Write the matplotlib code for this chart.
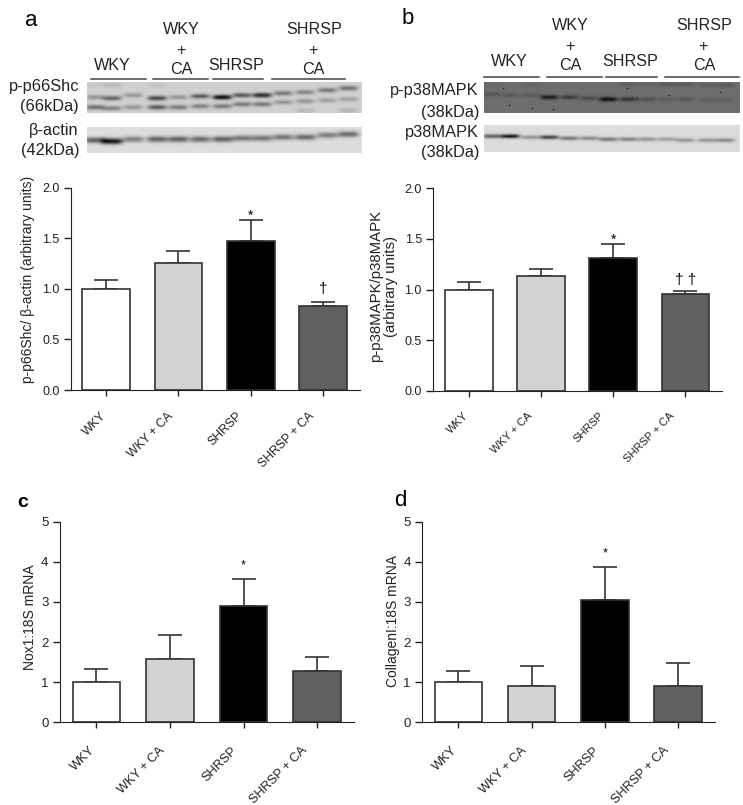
import numpy as np
import matplotlib
matplotlib.use('Agg')
import matplotlib.pyplot as plt
from matplotlib.transforms import ScaledTranslation

plt.rcParams['font.family'] = ['Liberation Sans', 'DejaVu Sans']

W, H = 743, 805

groups = ['WKY', 'WKY + CA', 'SHRSP', 'SHRSP + CA']
bar_colors = ['#ffffff', '#d3d3d3', '#000000', '#606060']

# bar heights and upper error bars
a_means = [1.0, 1.25, 1.47, 0.83]
a_errs = [0.085, 0.125, 0.21, 0.04]
b_means = [1.0, 1.13, 1.31, 0.96]
b_errs = [0.07, 0.07, 0.14, 0.025]
c_means = [1.0, 1.58, 2.91, 1.27]
c_errs = [0.34, 0.60, 0.66, 0.35]
d_means = [1.0, 0.91, 3.04, 0.91]
d_errs = [0.29, 0.49, 0.82, 0.58]

a_ticks = [0.0, 0.5, 1.0, 1.5, 2.0]
c_ticks = [0, 1, 2, 3, 4, 5]

# blot lanes, band rows and how dark each band is
a_lanes = [95, 112, 133, 157, 178, 200, 222, 242, 262, 283, 305, 327, 348]
a_upper_y = [97, 98, 95, 98, 97, 96, 97, 95, 95, 93, 92, 90, 88]
a_upper_s = [.3, .55, .3, .7, .3, .6, 1.0, .6, .85, .45, .4, .45, .5]
a_lower_y = [107, 108, 107, 107, 107, 106, 106, 104, 104, 102, 101, 100, 99]
a_lower_s = [.5, .4, .3, .6, .45, .4, .45, .45, .45, .3, .3, .25, .25]
a_faint_y = [85, 85, 85, 85, 85, 85, 85, 85, 85, 85, 110, 110, 110]
a_faint_s = [.05, .12, 0, .08, 0, 0, 0, 0, 0, 0, .12, 0, .15]
a_actin_y = [140, 141, 139, 139, 139, 139, 139, 138, 138, 137, 137, 135, 134]
a_actin_s = [.6, .95, .45, .6, .6, .55, .6, .5, .5, .5, .55, .45, .55]

b_lanes = [492, 510, 530, 549, 569, 589, 608, 628, 647, 667, 685, 707, 725]
b_phos_y = [94, 95, 95, 97, 97, 98, 99, 99, 99, 99, 99, 100, 100]
b_phos_s = [.25, .2, .2, .85, .5, .35, 1.0, .6, .3, .15, .2, .15, .15]
b_faint_y = [85, 85, 85, 85, 85, 85, 85, 84, 84, 84, 84, 85, 85]
b_faint_s = [.05, 0, .08, 0, 0, 0, 0, .15, .12, .2, .2, .15, .2]
b_total_y = [136, 136, 137, 137, 138, 138, 139, 139, 139, 139, 140, 140, 140]
b_total_s = [.6, .95, .35, .75, .5, .4, .5, .45, .35, .3, .35, .35, .4]
speck_x = [503, 627, 669, 532, 509, 553, 637, 720]
speck_y = [88, 88, 95, 108, 105, 109, 98, 92]


def add_box(left, right, top, bottom):
    return fig.add_axes([left / W, 1 - bottom / H, (right - left) / W, (bottom - top) / H])


def draw_blot(box, lanes, rows, bg, sx, sy):
    left, right, top, bottom = box
    ax = add_box(left, right, top, bottom)
    xx, yy = np.meshgrid(np.arange(left, right, 0.5), np.arange(top, bottom, 0.5))
    img = np.full(xx.shape, bg)
    for ys, strengths in rows:
        for x, y, s in zip(lanes, ys, strengths):
            img -= s * (bg - 0.05) * np.exp(-((xx - x) / sx) ** 4 - ((yy - y) / sy) ** 2)
    ax.imshow(np.clip(img, 0, 1), cmap='gray', vmin=0, vmax=1, extent=(left, right, bottom, top),
              aspect='auto', interpolation='bilinear')
    ax.axis('off')


def draw_bars(box, means, errs, ticks, ylabel, label_xy, fmt, tick_size, label_size, ylabel_size, offsets):
    left, right, top, bottom, first, step = box
    ax = add_box(left, right, top, bottom)
    xpos = np.arange(4)
    ax.bar(xpos, means, width=47.5 / step, color=bar_colors, edgecolor='#333333', linewidth=1.2, zorder=2)
    ax.errorbar(xpos, means, yerr=[[0] * 4, errs], fmt='none', ecolor='#333333', elinewidth=1.2,
                capsize=8.6, capthick=1.2, zorder=1)
    ax.set_xlim((left - first) / step, (right - first) / step)
    ax.set_ylim(ticks[0], ticks[-1])
    ax.set_yticks(ticks)
    ax.set_yticklabels([fmt % t for t in ticks])
    ax.set_xticks(xpos)
    ax.set_xticklabels(groups, rotation=45, ha='right', va='center', rotation_mode='anchor')
    ax.tick_params(axis='x', length=4, width=1, labelsize=label_size, colors='#222222')
    ax.tick_params(axis='y', length=5, width=1, labelsize=tick_size, pad=3, colors='#222222')
    # has to come after tick_params, which resets the label transforms
    for lab, (dx, dy) in zip(ax.get_xticklabels(), offsets):
        lab.set_transform(lab.get_transform() + ScaledTranslation(dx / 100, -dy / 100, fig.dpi_scale_trans))
    ax.spines['top'].set_visible(False)
    ax.spines['right'].set_visible(False)
    ax.spines['left'].set_color('#222222')
    ax.spines['bottom'].set_color('#222222')
    ax.patch.set_alpha(0)
    ax.set_ylabel(ylabel, fontsize=ylabel_size, color='#222222', linespacing=1.1)
    ax.yaxis.set_label_coords((label_xy[0] - left) / (right - left), (bottom - label_xy[1]) / (bottom - top))
    return ax


fig = plt.figure(figsize=(W / 100, H / 100), dpi=100, facecolor='white')

# blots
draw_blot((87, 362, 82, 113), a_lanes, [(a_upper_y, a_upper_s), (a_lower_y, a_lower_s), (a_faint_y, a_faint_s)],
          0.82, 9.5, 2.4)
draw_blot((87, 362, 127, 153), a_lanes, [(a_actin_y, a_actin_s)], 0.87, 10.5, 3)
draw_blot((484, 740, 82, 113), b_lanes, [(b_phos_y, b_phos_s), (b_faint_y, b_faint_s)], 0.43, 9, 2.2)
draw_blot((484, 740, 125, 152), b_lanes, [(b_total_y, b_total_s)], 0.86, 9.5, 2)

# bar panels: left, right, top, bottom of the axes, then first bar centre and bar spacing
off_a = [(-1, 14), (-7, 14), (-11, 14), (-11, 14)]
off_b = [(-2, 13), (-10, 13), (-11, 13), (-13, 13)]
off_c = [(-3, 16), (-7, 16), (-8, 16), (-12, 16)]
off_d = [(-3, 16), (-7, 16), (-8, 16), (-11, 16)]
ax_a = draw_bars((70.5, 360, 187.5, 390, 106, 72.4), a_means, a_errs, a_ticks,
                 'p-p66Shc/ β-actin (arbitrary units)', (35, 279), '%.1f', 9, 8.8, 10, off_a)
ax_b = draw_bars((433, 722, 188.3, 390.7, 469, 72.1), b_means, b_errs, a_ticks,
                 'p-p38MAPK/p38MAPK\n(arbitrary units)', (398, 286), '%.1f', 9, 8, 10.8, off_b)
ax_c = draw_bars((59.5, 354, 521.7, 722.3, 96.3, 73.6), c_means, c_errs, c_ticks,
                 'Nox1:18S mRNA', (37, 617), '%d', 9.5, 9.2, 10, off_c)
ax_d = draw_bars((422, 715, 521.7, 722.3, 458.3, 73.3), d_means, d_errs, c_ticks,
                 'CollagenI:18S mRNA', (400, 621), '%d', 9.5, 9.2, 10, off_d)

# significance marks
ax_a.text(2, 1.72, '*', ha='center', va='center', fontsize=10)
ax_a.text(3, 1.0, '†', ha='center', va='center', fontsize=11)
ax_b.text(2, 1.49, '*', ha='center', va='center', fontsize=10)
ax_b.text(3, 1.09, '† †', ha='center', va='center', fontsize=11)
ax_c.text(2, 3.9, '*', ha='center', va='center', fontsize=9)
ax_d.text(2, 4.2, '*', ha='center', va='center', fontsize=9)

# overlay in figure pixels for the blot headers and panel letters
over = fig.add_axes([0, 0, 1, 1])
over.set_xlim(0, W)
over.set_ylim(H, 0)
over.axis('off')

hdr = dict(ha='center', va='center', fontsize=11.6, color='#222222')
for x, y, s in [(112, 66, 'WKY'), (181, 30, 'WKY'), (181, 50, '+'), (181, 70, 'CA'), (236, 66, 'SHRSP'),
                (314, 30, 'SHRSP'), (313, 50, '+'), (313, 70, 'CA'),
                (509, 62, 'WKY'), (570, 26, 'WKY'), (570, 46, '+'), (570, 66, 'CA'), (630, 62, 'SHRSP'),
                (704, 26, 'SHRSP'), (703, 46, '+'), (704, 66, 'CA')]:
    over.text(x, y, s, **hdr)
for x0, x1, y in [(91, 146, 78.7), (153, 208, 78.7), (213, 263, 78.7), (272, 345, 78.7),
                  (484, 539, 77), (547, 602, 77), (606, 657, 77), (665, 739, 77)]:
    over.plot([x0, x1], [y, y], color='#444444', lw=1.1)
over.scatter(speck_x, speck_y, s=1.5, c='#2a2a2a', linewidths=0)

side = dict(ha='right', va='center', fontsize=11.8, color='#222222')
for x, y, s in [(79, 86, 'p-p66Shc'), (79, 106, '(66kDa)'), (79, 131, 'β-actin'), (79, 150, '(42kDa)'),
                (479, 91, 'p-p38MAPK'), (479, 112, '(38kDa)'), (479, 132, 'p38MAPK'), (479, 152, '(38kDa)')]:
    over.text(x, y, s, **side)

over.text(31, 20, 'a', ha='center', va='center', fontsize=16)
over.text(408, 18, 'b', ha='center', va='center', fontsize=16)
over.text(23, 502, 'c', ha='center', va='center', fontsize=14, fontweight='bold')
over.text(400, 500, 'd', ha='center', va='center', fontsize=16)

fig.savefig('out.png', dpi=100)
